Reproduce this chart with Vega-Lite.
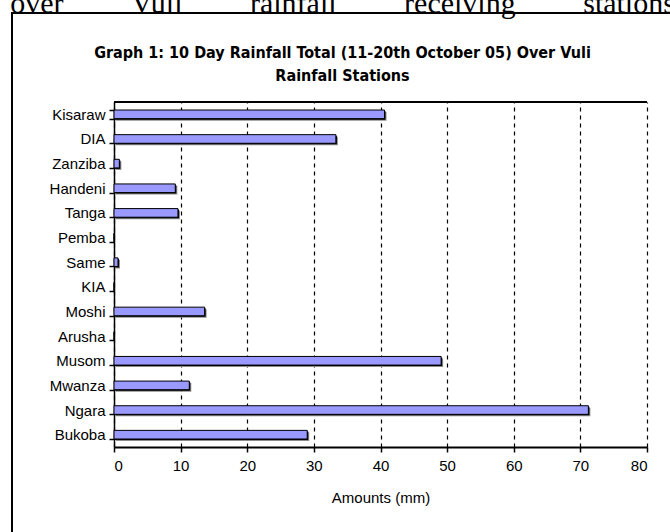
{
  "$schema": "https://vega.github.io/schema/vega-lite/v6.json",
  "width": 533,
  "height": 345,
  "autosize": {"type": "none"},
  "padding": {"left": 114, "top": 102, "right": 23, "bottom": 85},
  "background": "white",
  "config": {
    "view": {"stroke": null},
    "axis": {
      "labelFont": "Liberation Sans",
      "titleFont": "Liberation Sans",
      "labelColor": "black",
      "titleColor": "black",
      "domainColor": "black",
      "tickColor": "black",
      "labelFontSize": 15,
      "titleFontSize": 15,
      "titleFontWeight": "normal"
    }
  },
  "title": {
    "text": "over\u00a0\u00a0\u00a0\u00a0\u00a0\u00a0\u00a0\u00a0\u00a0Vuli\u00a0\u00a0\u00a0\u00a0\u00a0\u00a0\u00a0\u00a0\u00a0rainfall\u00a0\u00a0\u00a0\u00a0\u00a0\u00a0\u00a0\u00a0\u00a0receiving\u00a0\u00a0\u00a0\u00a0\u00a0\u00a0\u00a0\u00a0\u00a0stations",
    "subtitle": ["Graph 1: 10 Day Rainfall Total (11-20th October 05) Over Vuli", "Rainfall Stations"],
    "anchor": "middle",
    "frame": "group",
    "dx": -38,
    "offset": -72,
    "font": "Liberation Serif",
    "fontSize": 30,
    "fontWeight": "normal",
    "color": "black",
    "subtitleFont": "Liberation Sans Narrow, DejaVu Sans Condensed, sans-serif",
    "subtitleFontSize": 16,
    "subtitleFontWeight": "bold",
    "subtitleColor": "black",
    "subtitleLineHeight": 23,
    "subtitlePadding": 26
  },
  "data": {
    "values": [
      {"station": "Kisaraw", "amount": 40.6},
      {"station": "DIA", "amount": 33.3},
      {"station": "Zanziba", "amount": 0.8},
      {"station": "Handeni", "amount": 9.2},
      {"station": "Tanga", "amount": 9.6},
      {"station": "Pemba", "amount": 0},
      {"station": "Same", "amount": 0.6},
      {"station": "KIA", "amount": 0},
      {"station": "Moshi", "amount": 13.6},
      {"station": "Arusha", "amount": 0},
      {"station": "Musom", "amount": 49.1},
      {"station": "Mwanza", "amount": 11.3},
      {"station": "Ngara", "amount": 71.2},
      {"station": "Bukoba", "amount": 29.0}
    ]
  },
  "layer": [
    {
      "encoding": {
        "y": {
          "field": "station",
          "type": "nominal",
          "sort": ["Kisaraw", "DIA", "Zanziba", "Handeni", "Tanga", "Pemba", "Same", "KIA", "Moshi", "Arusha", "Musom", "Mwanza", "Ngara", "Bukoba"],
          "scale": {"paddingInner": 0.65, "paddingOuter": 0.325},
          "axis": {
            "title": null,
            "tickBand": "extent",
            "tickSize": 5,
            "tickWidth": 1.5,
            "domainWidth": 1.5,
            "labelPadding": 4
          }
        },
        "x": {
          "field": "amount",
          "type": "quantitative",
          "title": "Amounts (mm)",
          "scale": {"domain": [0, 80], "nice": false},
          "axis": {
            "values": [0, 10, 20, 30, 40, 50, 60, 70, 80],
            "grid": true,
            "gridColor": "black",
            "gridDash": [4, 4],
            "gridWidth": 1.2,
            "domainWidth": 2,
            "tickSize": 5,
            "tickWidth": 1.5,
            "labelPadding": 6,
            "titlePadding": 17
          }
        }
      },
      "layer": [
        {
          "transform": [{"filter": "datum.amount > 0"}],
          "mark": {"type": "bar", "color": "#8c8c8c", "xOffset": 2, "x2Offset": 2, "yOffset": 2}
        },
        {
          "transform": [{"filter": "datum.amount > 0"}],
          "mark": {"type": "bar", "color": "black", "xOffset": 1, "x2Offset": 1, "yOffset": 1}
        },
        {
          "mark": {"type": "bar", "fill": "#9999ff", "stroke": "black", "strokeWidth": 1}
        }
      ]
    },
    {
      "data": {"values": [{}]},
      "layer": [
        {
          "mark": {"type": "rect", "fillOpacity": 0, "stroke": "black", "strokeWidth": 2},
          "encoding": {
            "x": {"datum": -15.31, "type": "quantitative", "title": "Amounts (mm)", "scale": {"domain": [0, 80], "nice": false}},
            "x2": {"datum": 90},
            "y": {"datum": 1.258, "type": "quantitative", "scale": {"domain": [0, 1], "nice": false}, "axis": null},
            "y2": {"datum": -0.6}
          }
        },
        {
          "mark": {"type": "rule", "color": "black", "strokeWidth": 2},
          "encoding": {
            "x": {"datum": 0, "type": "quantitative", "title": "Amounts (mm)", "scale": {"domain": [0, 80], "nice": false}},
            "x2": {"datum": 80},
            "y": {"datum": 1, "type": "quantitative", "scale": {"domain": [0, 1], "nice": false}, "axis": null}
          }
        }
      ]
    }
  ],
  "resolve": {"scale": {"y": "independent"}, "axis": {"y": "independent"}}
}
